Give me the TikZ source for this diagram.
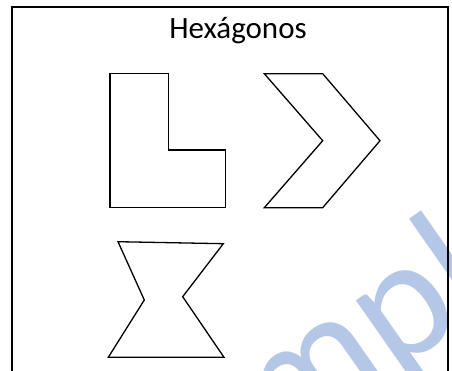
\documentclass[tikz,border=0pt]{standalone}
\usepackage{fontspec}
\setmainfont{Carlito}
\usepackage{xcolor}
\usepackage{tikz}
\definecolor{watermark}{RGB}{180,199,231}
\tikzstyle{hexagon} = [line width=1.3pt, line join=miter]
\tikzstyle{frame} = [line width=2pt]

\begin{document}
\begin{tikzpicture}[x=1pt, y=-1pt]
\useasboundingbox (0,0) rectangle (452,371);
\clip (0,0) rectangle (452,371);

% Watermark
\node[text=watermark, anchor=base west, rotate=35, inner sep=0pt, font=\fontsize{171}{171}\selectfont] (sample) at (150,545) {Sample};

% Frame
\draw[frame] (12,371) -- (12,7) -- (448,7) -- (448,371);

% Title
\node[anchor=base, inner sep=0pt, font=\fontsize{31}{31}\selectfont] (title) at (238,38.3) {Hexágonos};

% L-shaped hexagon
\draw[hexagon] (110,73.3) -- (168.3,73.3) -- (168.3,150) -- (225.7,150) -- (225.7,207.7) -- (110,207.7) -- cycle;

% Chevron hexagon
\draw[hexagon] (264.3,73.7) -- (322.7,73.7) -- (380,140.7) -- (322.7,207.7) -- (264.3,207.7) -- (322.7,140.7) -- cycle;

% Hourglass hexagon
\draw[hexagon] (118,241.7) -- (223.3,243.7) -- (182.7,296.7) -- (224,357.3) -- (108.3,357.3) -- (144.3,300) -- cycle;

\end{tikzpicture}
\end{document}
